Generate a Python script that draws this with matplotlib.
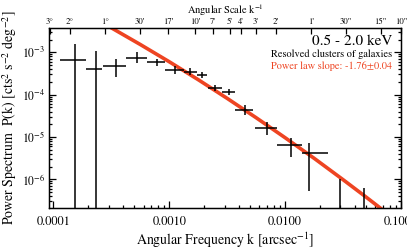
import matplotlib
matplotlib.use("Agg")
import matplotlib.pyplot as plt
import numpy as np
from matplotlib.ticker import FixedLocator, NullFormatter, LogLocator

plt.rcParams['font.family'] = ['STIXGeneral', 'DejaVu Serif']
plt.rcParams['mathtext.fontset'] = 'stix'

# Data points (k in arcsec^-1, P(k))
k = [1.54e-4, 2.32e-4, 3.44e-4, 5.21e-4, 7.83e-4, 1.13e-3, 1.51e-3, 1.91e-3,
     2.48e-3, 3.30e-3, 4.49e-3, 6.90e-3, 1.13e-2, 1.62e-2, 2.99e-2, 4.81e-2]
k_lo = [1.14e-4, 1.90e-4, 2.70e-4, 4.19e-4, 6.44e-4, 9.25e-4, 1.33e-3, 1.73e-3,
        2.17e-3, 2.83e-3, 3.69e-3, 5.47e-3, 8.51e-3, 1.41e-2, 2.60e-2, 4.20e-2]
k_hi = [1.90e-4, 2.64e-4, 4.19e-4, 6.44e-4, 9.25e-4, 1.33e-3, 1.73e-3, 2.13e-3,
        2.83e-3, 3.69e-3, 5.30e-3, 8.51e-3, 1.41e-2, 2.33e-2, 3.40e-2, 5.50e-2]
p = [6.68e-4, 4.09e-4, 4.82e-4, 7.33e-4, 5.81e-4, 3.82e-4, 3.48e-4, 2.90e-4,
     1.41e-4, 1.17e-4, 4.33e-5, 1.67e-5, 6.44e-6, 4.09e-6, 1e-9, 1e-9]
p_lo = [1e-9, 1e-9, 2.56e-4, 5.58e-4, 4.67e-4, 3.07e-4, 2.90e-4, 2.42e-4,
        1.19e-4, 9.9e-5, 3.30e-5, 1.11e-5, 3.35e-6, 5.35e-7, 1e-10, 1e-10]
p_hi = [1.55e-3, 1.09e-3, 7.06e-4, 1.02e-3, 6.95e-4, 4.74e-4, 4.26e-4, 3.48e-4,
        1.66e-4, 1.38e-4, 5.68e-5, 2.25e-5, 9.28e-6, 7.30e-6, 9.95e-7, 6.1e-7]

# Power-law model curve
model_k = [2.0e-4, 3.16e-4, 5.62e-4, 1.0e-3, 1.78e-3, 3.16e-3, 5.62e-3,
           1.0e-2, 1.78e-2, 3.16e-2, 5.01e-2, 7.94e-2]
model_p = [7.6e-3, 3.79e-3, 1.53e-3, 5.98e-4, 2.25e-4, 8.16e-5, 2.85e-5,
           9.6e-6, 3.13e-6, 9.8e-7, 3.78e-7, 1.43e-7]

# Axis ticks
x_ticks = [1e-4, 1e-3, 1e-2, 1e-1]
x_tick_labels = ['0.0001', '0.0010', '0.0100', '0.1000']
top_labels = ['3°', '2°', '1°', "30'", "17'", "10'", "7'", "5'", "4'", "3'",
              "2'", "1'", '30"', '15"', '10"']
top_arcsec = [10800, 7200, 3600, 1800, 1020, 600, 420, 300, 240, 180,
              120, 60, 30, 15, 10]

red = '#EE4422'

fig = plt.figure(figsize=(4.07, 2.52), dpi=100)
ax = fig.add_axes([0.1211, 0.1746, 0.8642, 0.7131])
ax.set_xscale('log')
ax.set_yscale('log')
xlim = (9.2e-5, 0.1)
ax.set_xlim(*xlim)
ax.set_ylim(2.1e-7, 3.7e-3)

ax.plot(model_k, model_p, color=red, lw=2.6, solid_capstyle='butt', zorder=2)

k_arr = np.array(k); p_arr = np.array(p)
xerr = [k_arr - np.array(k_lo), np.array(k_hi) - k_arr]
yerr = [p_arr - np.array(p_lo), np.array(p_hi) - p_arr]
ax.errorbar(k, p, xerr=xerr, yerr=yerr, fmt='none', ecolor='black',
            elinewidth=1.1, capsize=0, zorder=3)

ax.xaxis.set_major_locator(FixedLocator(x_ticks))
ax.set_xticklabels(x_tick_labels, fontsize=9)
ax.xaxis.set_minor_locator(LogLocator(base=10, subs=np.arange(2, 10)))
ax.xaxis.set_minor_formatter(NullFormatter())
ax.yaxis.set_major_locator(LogLocator(base=10, numticks=20))
ax.yaxis.set_minor_locator(LogLocator(base=10, subs=np.arange(2, 10), numticks=20))
ax.yaxis.set_minor_formatter(NullFormatter())
ax.tick_params(axis='both', which='both', direction='in', top=False, right=True, width=0.9)
ax.tick_params(axis='both', which='major', length=5)
ax.tick_params(axis='both', which='minor', length=2.5)
ax.tick_params(axis='y', labelsize=8.5, pad=3)
ax.tick_params(axis='x', pad=6)
for s in ax.spines.values():
    s.set_linewidth(1.0)

ax.set_xlabel('Angular Frequency k [arcsec$^{-1}$]', fontsize=10, labelpad=2)
ax.set_ylabel('Power Spectrum  P(k) [cts$^2$ s$^{-2}$ deg$^{-2}$]', fontsize=10, labelpad=2)

# Top axis: angular scale
axt = ax.twiny()
axt.set_xscale('log')
axt.set_xlim(*xlim)
axt.xaxis.set_major_locator(FixedLocator([1.0 / a for a in top_arcsec]))
axt.set_xticklabels(top_labels, fontsize=6.3)
axt.xaxis.set_minor_locator(FixedLocator([]))
axt.tick_params(axis='x', which='major', direction='in', length=4, width=0.9, pad=2)
axt.set_xlabel('Angular Scale k$^{-1}$', fontsize=7.5, labelpad=2.5)

ax.text(0.975, 0.93, '0.5 - 2.0 keV', transform=ax.transAxes, ha='right', va='center',
        fontsize=11)
ax.text(0.975, 0.855, 'Resolved clusters of galaxies', transform=ax.transAxes, ha='right',
        va='center', fontsize=7.5)
ax.text(0.975, 0.79, 'Power law slope: -1.76±0.04', transform=ax.transAxes, ha='right',
        va='center', fontsize=7.5, color=red)

fig.savefig('out.png', dpi=100)
